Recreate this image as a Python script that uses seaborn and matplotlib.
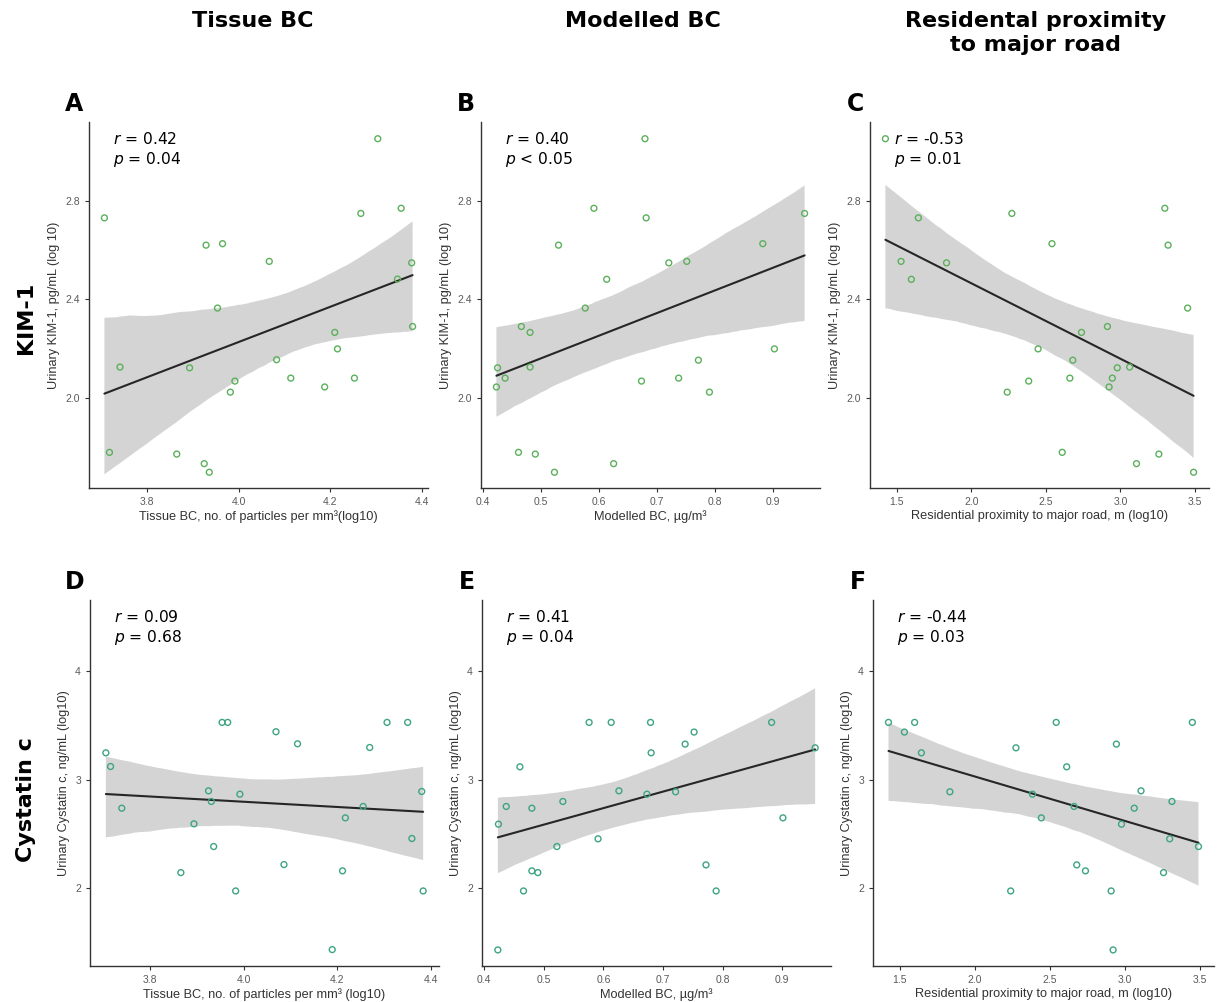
import numpy as np
import pandas as pd
import matplotlib
matplotlib.use('Agg')
import matplotlib.pyplot as plt
import seaborn as sns

# Column / row headings
col_titles = ['Tissue BC', 'Modelled BC', 'Residental proximity\nto major road']
row_titles = ['KIM-1', 'Cystatin c']
panel_letters = ['A', 'B', 'C', 'D', 'E', 'F']

# Panel A: tissue BC vs KIM-1
a_x = [3.707, 3.718, 3.741, 3.865, 3.893, 3.925, 3.936, 3.929, 3.965, 3.954, 3.982, 3.992, 4.067,
       4.083, 4.114, 4.188, 4.210, 4.216, 4.253, 4.267, 4.304, 4.355, 4.347, 4.378, 4.380]
a_y = [2.731, 1.777, 2.124, 1.770, 2.121, 1.731, 1.696, 2.620, 2.626, 2.364, 2.022, 2.067, 2.554,
       2.154, 2.079, 2.043, 2.265, 2.198, 2.079, 2.749, 3.053, 2.770, 2.482, 2.548, 2.289]

# Panel B: modelled BC vs KIM-1
b_x = [0.679, 0.591, 0.681, 0.954, 0.530, 0.882, 0.720, 0.751, 0.613, 0.576, 0.466, 0.481, 0.902,
       0.771, 0.425, 0.481, 0.438, 0.423, 0.673, 0.737, 0.790, 0.461, 0.490, 0.625, 0.523]
b_y = [3.053, 2.770, 2.731, 2.749, 2.620, 2.626, 2.548, 2.554, 2.481, 2.364, 2.289, 2.265, 2.198,
       2.152, 2.121, 2.124, 2.079, 2.043, 2.067, 2.079, 2.022, 1.777, 1.770, 1.731, 1.696]

# Panel C: proximity to major road vs KIM-1
c_x = [1.424, 1.645, 1.529, 1.598, 1.834, 2.272, 2.541, 3.298, 3.320, 3.451, 2.913, 2.739, 2.448,
       2.681, 2.979, 3.062, 2.946, 2.661, 2.924, 2.385, 2.241, 2.610, 3.258, 3.108, 3.491]
c_y = [3.053, 2.731, 2.554, 2.481, 2.548, 2.749, 2.626, 2.770, 2.620, 2.364, 2.289, 2.265, 2.198,
       2.152, 2.121, 2.124, 2.079, 2.079, 2.043, 2.067, 2.022, 1.777, 1.770, 1.731, 1.696]

# Panel D: tissue BC vs cystatin c
d_x = [3.706, 3.716, 3.740, 3.866, 3.894, 3.925, 3.931, 3.936, 3.954, 3.966, 3.983, 3.992, 4.069,
       4.086, 4.115, 4.189, 4.211, 4.217, 4.255, 4.269, 4.306, 4.350, 4.359, 4.380, 4.383]
d_y = [3.247, 3.121, 2.737, 2.144, 2.593, 2.897, 2.799, 2.384, 3.527, 3.527, 1.975, 2.866, 3.441,
       2.218, 3.330, 1.435, 2.160, 2.648, 2.753, 3.296, 3.527, 3.527, 2.458, 2.891, 1.975]

# Panel E: modelled BC vs cystatin c
e_x = [0.576, 0.613, 0.679, 0.882, 0.752, 0.737, 0.680, 0.955, 0.460, 0.626, 0.673, 0.721, 0.532,
       0.437, 0.480, 0.424, 0.901, 0.522, 0.591, 0.772, 0.480, 0.490, 0.466, 0.789, 0.423]
e_y = [3.527, 3.527, 3.527, 3.527, 3.438, 3.327, 3.247, 3.293, 3.118, 2.897, 2.866, 2.888, 2.799,
       2.753, 2.737, 2.590, 2.648, 2.384, 2.455, 2.215, 2.160, 2.144, 1.975, 1.975, 1.432]

# Panel F: proximity to major road vs cystatin c
f_x = [1.426, 1.532, 1.600, 1.645, 1.835, 2.275, 2.543, 2.613, 2.385, 2.444, 2.662, 2.680, 2.738,
       2.240, 2.944, 2.909, 2.922, 2.978, 3.063, 3.108, 3.299, 3.314, 3.258, 3.450, 3.491]
f_y = [3.527, 3.438, 3.527, 3.247, 2.888, 3.293, 3.527, 3.118, 2.866, 2.648, 2.753, 2.215, 2.160,
       1.975, 3.327, 1.975, 1.432, 2.590, 2.737, 2.897, 2.455, 2.799, 2.144, 3.527, 2.384]

r_labels = ['0.42', '0.40', '-0.53', '0.09', '0.41', '-0.44']
p_labels = ['= 0.04', '< 0.05', '= 0.01', '= 0.68', '= 0.04', '= 0.03']

x_labels = ['Tissue BC, no. of particles per mm\u00b3(log10)', 'Modelled BC, \u00b5g/m\u00b3',
            'Residential proximity to major road, m (log10)',
            'Tissue BC, no. of particles per mm\u00b3 (log10)', 'Modelled BC, \u00b5g/m\u00b3',
            'Residential proximity to major road, m (log10)']
y_labels = ['Urinary KIM-1, pg/mL (log 10)', 'Urinary Cystatin c, ng/mL (log10)']

x_ticks = [[3.8, 4.0, 4.2, 4.4], [0.4, 0.5, 0.6, 0.7, 0.8, 0.9], [1.5, 2.0, 2.5, 3.0, 3.5]]
y_ticks = [[2.0, 2.4, 2.8], [2, 3, 4]]
x_fmt = ['{:.1f}', '{:.1f}', '{:.1f}']
y_fmt = ['{:.1f}', '{:.0f}']

panels = [(a_x, a_y), (b_x, b_y), (c_x, c_y), (d_x, d_y), (e_x, e_y), (f_x, f_y)]

sns.set_style('ticks')
plt.rcParams['font.family'] = ['Liberation Sans', 'DejaVu Sans']

W, H = 1218, 1002
fig = plt.figure(figsize=(W / 100, H / 100), dpi=100)

# axes boxes in pixels: left, top, right, bottom
boxes = [(89, 122, 428, 488), (481, 122, 820, 488), (870, 122, 1209, 488),
         (90, 600, 439, 966), (482, 600, 831, 966), (873, 600, 1214, 966)]
y_lims = [(1.632, 3.121), (1.284, 4.654)]
point_colors = ['#5cb05c', '#3da57f']

for i, (x, y) in enumerate(panels):
    row, col = divmod(i, 3)
    l, t, r, b = boxes[i]
    ax = fig.add_axes([l / W, 1 - b / H, (r - l) / W, (b - t) / H])
    df = pd.DataFrame({'x': x, 'y': y})

    # fitted line with 95% band, band drawn solid grey under the points
    sns.regplot(data=df, x='x', y='y', ax=ax, scatter=False, ci=95, n_boot=4000, seed=3,
                line_kws={'color': '#262626', 'lw': 1.5})
    for coll in ax.collections:
        coll.set_facecolor('#d4d4d4')
        coll.set_alpha(1)
        coll.set_edgecolor('none')
    sns.scatterplot(data=df, x='x', y='y', ax=ax, s=18, facecolors='none',
                    edgecolor=point_colors[row], linewidth=1.0, zorder=3)

    span = max(x) - min(x)
    ax.set_xlim(min(x) - 0.05 * span, max(x) + 0.05 * span)
    ax.set_ylim(*y_lims[row])
    ax.set_xticks(x_ticks[col])
    ax.set_xticklabels([x_fmt[col].format(v) for v in x_ticks[col]])
    ax.set_yticks(y_ticks[row])
    ax.set_yticklabels([y_fmt[row].format(v) for v in y_ticks[row]])
    ax.tick_params(labelsize=7.5, labelcolor='#5a5a5a', color='#333333', length=3, width=0.8)
    ax.set_xlabel(x_labels[i], fontsize=9.2, color='#333333', labelpad=2)
    ax.set_ylabel(y_labels[row], fontsize=9.2, color='#333333', labelpad=4)
    sns.despine(ax=ax)
    for s in ['left', 'bottom']:
        ax.spines[s].set_color('#333333')
        ax.spines[s].set_linewidth(1.0)

    ax.text(0.07, 0.975, '$r$ = ' + r_labels[i] + '\n$p$ ' + p_labels[i],
            transform=ax.transAxes, ha='left', va='top', fontsize=11.2, color='black',
            family='DejaVu Sans', linespacing=1.2)

    fig.text((l - 15) / W, 1 - (t - 18) / H, panel_letters[i], fontsize=17, color='black',
             fontweight='heavy', ha='center', va='center', family='DejaVu Sans')

col_x = [253, 643, 1036]
for cx, title in zip(col_x, col_titles):
    fig.text(cx / W, 1 - 11 / H, title, fontsize=16, fontweight='bold', ha='center',
             va='top', family='DejaVu Sans', linespacing=1.22, color='black')

row_y = [318, 800]
for ry, title in zip(row_y, row_titles):
    fig.text(26 / W, 1 - ry / H, title, fontsize=16, fontweight='bold', ha='center',
             va='center', rotation=90, family='DejaVu Sans', color='black')

fig.savefig('out.png', dpi=100, facecolor='white')
